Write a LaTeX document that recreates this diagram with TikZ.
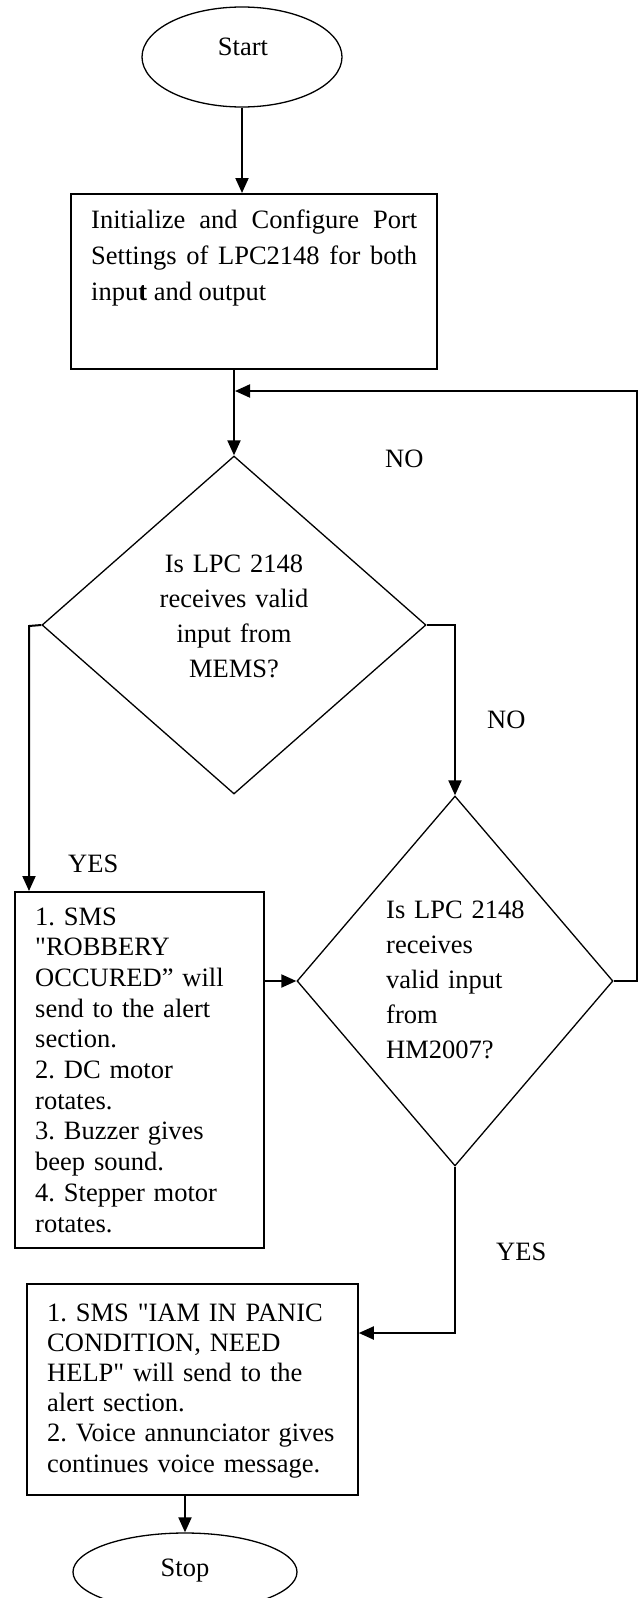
\documentclass[tikz,border=0pt]{standalone}
\usepackage{fontspec}
\setmainfont{Liberation Serif}[Ligatures=TeXOff]
\usetikzlibrary{arrows.meta,shapes.geometric}
\frenchspacing
\begin{document}
\begin{tikzpicture}[x=1pt,y=-1pt,
  shapeline/.style={draw=black, line width=1.3pt, inner sep=0pt},
  boxst/.style={draw=black, line width=1.8pt, rectangle, inner sep=0pt, anchor=north west},
  arr/.style={line width=2pt, -{Triangle[length=15pt,width=13pt]}},
  txt/.style={inner sep=0pt, font=\fontsize{26.5pt}{35pt}\selectfont\frenchspacing},
  lbl/.style={inner sep=0pt, anchor=base west, font=\fontsize{26.5pt}{32pt}\selectfont}]
\useasboundingbox (0,0) rectangle (642,1598);
\clip (0,0) rectangle (642,1598);

% shapes
\node[ellipse, shapeline, minimum width=200pt, minimum height=100pt] (start) at (242,57) {};
\node[txt, anchor=base] (starttxt) at (243,55) {Start};

\node[boxst, minimum width=366pt, minimum height=175pt] (box1) at (70,193) {};
\node[txt, anchor=base west, text width=326pt, align=justify, font=\fontsize{26.5pt}{36pt}\selectfont\frenchspacing] (box1txt) at (91,228)
  {Initialize and Configure Port\linebreak Settings of LPC2148 for both\linebreak inpu\textbf{t} and output};

\node[diamond, shapeline, minimum width=384pt, minimum height=338pt] (d1) at (234,625) {};
\node[txt, anchor=base, text width=220pt, align=center] (d1txt) at (234,572)
  {Is LPC 2148\\ receives valid\\ input from\\ MEMS?};

\node[diamond, shapeline, minimum width=316pt, minimum height=370pt] (d2) at (455,981) {};
\node[txt, anchor=base west, text width=200pt, align=left] (d2txt) at (386,918)
  {Is LPC 2148\\ receives\\ valid input\\ from\\ HM2007?};

\node[boxst, minimum width=249pt, minimum height=356pt] (box2) at (14,891) {};
\node[txt, anchor=base west, text width=222pt, align=left, font=\fontsize{26.5pt}{30.7pt}\selectfont\frenchspacing] (box2txt) at (35,925)
  {1. SMS\\ "ROBBERY\\ OCCURED” will\\ send to the alert\\ section.\\ 2. DC motor\\ rotates.\\ 3. Buzzer gives\\ beep sound.\\ 4. Stepper motor\\ rotates.};

\node[boxst, minimum width=331pt, minimum height=211pt] (box3) at (26,1283) {};
\node[txt, anchor=base west, text width=305pt, align=left, font=\fontsize{26.5pt}{30.2pt}\selectfont\frenchspacing] (box3txt) at (47,1321)
  {1. SMS "IAM IN PANIC\\ CONDITION, NEED\\ HELP" will send to the\\ alert section.\\ 2. Voice annunciator gives\\ continues voice message.};

\node[ellipse, shapeline, minimum width=224pt, minimum height=78pt] (stop) at (185,1572) {};
\node[txt, anchor=base] (stoptxt) at (185,1576) {Stop};

% labels
\node[lbl] (no1) at (385,467) {NO};
\node[lbl] (no2) at (487,728) {NO};
\node[lbl] (yes1) at (68,872) {YES};
\node[lbl] (yes2) at (496,1260) {YES};

% connectors
\coordinate (fbR) at (637,391);
\coordinate (fbJ) at (235,391);
\coordinate (yesL) at (29,626);
\coordinate (yesB) at (455,1333);

\draw[arr] (start.south) -- (start.south |- box1.north);
\draw[arr] (box1.south -| d1.north) -- (d1.north);
\draw[arr] (d2.east) -- (d2.east -| fbR) -- (fbR) -- (fbJ);
\draw[arr] (d1.east) -| (d2.north);
\draw[arr] (d1.west) -- (yesL) -- (yesL |- box2.north);
\draw[arr] (box2.east |- d2.west) -- (d2.west);
\draw[arr] (d2.south) -- (yesB) -- (yesB -| box3.east);
\draw[arr] (box3.south -| stop.north) -- (stop.north);
\end{tikzpicture}
\end{document}
